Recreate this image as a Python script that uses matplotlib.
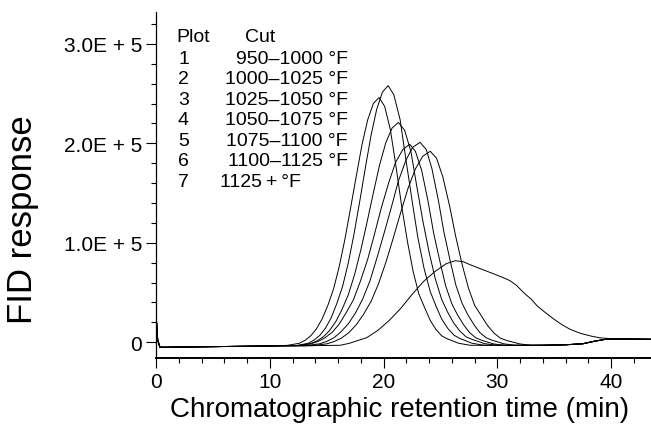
import matplotlib
matplotlib.use("Agg")
import matplotlib.pyplot as plt
import numpy as np
from matplotlib.ticker import MultipleLocator, FixedLocator

plt.rcParams['font.family'] = ['Liberation Sans', 'DejaVu Sans']

# shared baseline before the peaks and after them (min, response in 1e5)
head_t = [0.0, 0.05, 0.15, 0.35, 1.0, 4.0, 8.0, 11.0]
head_v = [0.0, 0.2, 0.02, -0.05, -0.05, -0.045, -0.04, -0.035]
tail_t = [34.0, 36.0, 37.5, 38.5, 39.5, 41.0, 43.5]
tail_v = [-0.03, -0.025, -0.015, 0.01, 0.03, 0.032, 0.03]

# plot 1: 950-1000 F
c1_t = [11.6, 12.6, 13.1, 13.6, 14.1, 14.6, 15.1, 15.6, 16.1, 16.6, 17.1, 17.6, 18.1, 18.6, 19.1, 19.6,
        20.1, 20.6, 21.1, 21.6, 22.1, 22.6, 23.1, 23.6, 24.1, 24.6, 25.1, 25.6, 26.6, 27.6]
c1_v = [-0.03, -0.01, 0.02, 0.065, 0.135, 0.235, 0.37, 0.535, 0.76, 1.035, 1.35, 1.67, 1.985, 2.235, 2.40, 2.46,
        2.37, 2.135, 1.76, 1.36, 1.01, 0.71, 0.485, 0.35, 0.22, 0.13, 0.065, 0.035, -0.01, -0.03]
# plot 2: 1000-1025 F
c2_t = [12.4, 13.4, 13.9, 14.4, 14.9, 15.4, 15.9, 16.4, 16.9, 17.4, 17.9, 18.4, 18.9, 19.4, 19.9, 20.4,
        20.9, 21.45, 21.95, 22.5, 23.0, 23.55, 24.1, 24.6, 25.1, 25.65, 26.2, 26.7, 27.75, 28.8]
c2_v = [-0.032, -0.009, 0.023, 0.07, 0.143, 0.248, 0.392, 0.563, 0.798, 1.087, 1.414, 1.755, 2.082, 2.344, 2.515, 2.58,
        2.488, 2.239, 1.846, 1.427, 1.06, 0.746, 0.51, 0.366, 0.235, 0.138, 0.07, 0.039, -0.009, -0.03]
# plot 3: 1025-1050 F
c3_t = [12.5, 13.6, 14.15, 14.7, 15.25, 15.8, 16.35, 16.9, 17.45, 18.0, 18.55, 19.1, 19.65, 20.2, 20.75, 21.3,
        21.85, 22.4, 22.9, 23.45, 24.0, 24.55, 25.1, 25.6, 26.15, 26.7, 27.25, 27.8, 28.85, 29.95]
c3_v = [-0.033, -0.013, 0.014, 0.055, 0.118, 0.208, 0.331, 0.478, 0.68, 0.928, 1.209, 1.501, 1.783, 2.008, 2.154, 2.21,
        2.131, 1.918, 1.58, 1.22, 0.905, 0.635, 0.433, 0.309, 0.196, 0.113, 0.055, 0.028, -0.013, -0.031]
# plot 4: 1050-1075 F
c4_t = [12.4, 13.6, 14.25, 14.85, 15.5, 16.1, 16.7, 17.35, 17.95, 18.6, 19.2, 19.8, 20.45, 21.05, 21.7, 22.3,
        22.8, 23.35, 23.9, 24.4, 24.95, 25.45, 26.0, 26.5, 27.05, 27.55, 28.1, 28.6, 29.65, 30.7]
c4_v = [-0.034, -0.016, 0.009, 0.045, 0.102, 0.183, 0.295, 0.427, 0.61, 0.833, 1.087, 1.351, 1.604, 1.807, 1.939, 1.99,
        1.919, 1.726, 1.422, 1.097, 0.813, 0.569, 0.386, 0.275, 0.173, 0.098, 0.045, 0.021, -0.016, -0.032]
# plot 5: 1075-1100 F
c5_t = [13.1, 14.4, 15.0, 15.65, 16.25, 16.9, 17.55, 18.15, 18.8, 19.4, 20.05, 20.7, 21.3, 21.95, 22.55, 23.2,
        23.75, 24.25, 24.8, 25.3, 25.85, 26.35, 26.9, 27.4, 27.95, 28.45, 29.0, 29.5, 30.55, 31.6]
c5_v = [-0.034, -0.015, 0.009, 0.046, 0.104, 0.186, 0.298, 0.432, 0.616, 0.842, 1.098, 1.364, 1.621, 1.826, 1.959, 2.01,
        1.938, 1.744, 1.436, 1.108, 0.821, 0.575, 0.391, 0.278, 0.175, 0.099, 0.046, 0.022, -0.015, -0.032]
# plot 6: 1100-1125 F
c6_t = [13.7, 15.0, 15.65, 16.3, 16.95, 17.6, 18.25, 18.9, 19.55, 20.2, 20.85, 21.5, 22.15, 22.8, 23.45, 24.1,
        24.65, 25.2, 25.8, 26.35, 26.9, 27.45, 28.0, 28.6, 29.15, 29.7, 30.25, 30.8, 31.95, 33.05]
c6_v = [-0.034, -0.016, 0.007, 0.042, 0.097, 0.176, 0.283, 0.411, 0.587, 0.803, 1.048, 1.303, 1.548, 1.744, 1.871, 1.92,
        1.851, 1.665, 1.371, 1.058, 0.783, 0.548, 0.372, 0.264, 0.166, 0.093, 0.042, 0.019, -0.016, -0.032]
# plot 7: 1125+ F (runs to the end on its own)
c7_t = [13.0, 16.2, 17.0, 17.8, 18.5, 19.5, 20.5, 21.5, 22.5, 23.5, 24.5, 25.5, 26.3, 27.0, 27.6, 28.5, 29.4,
        30.3, 31.1, 31.7, 32.3, 33.0, 33.5, 34.2, 35.0, 35.7, 36.4, 37.3, 38.2, 39.0, 39.9, 41.5, 43.5]
c7_v = [-0.035, -0.03, -0.01, 0.02, 0.045, 0.12, 0.22, 0.34, 0.48, 0.61, 0.71, 0.79, 0.82, 0.81, 0.78, 0.74, 0.70,
        0.66, 0.62, 0.57, 0.50, 0.43, 0.365, 0.30, 0.23, 0.175, 0.13, 0.09, 0.063, 0.045, 0.037, 0.035, 0.03]

plot_ids = ['1', '2', '3', '4', '5', '6', '7']
cuts = ['950\u20131000 \u00b0F', '1000\u20131025 \u00b0F', '1025\u20131050 \u00b0F', '1050\u20131075 \u00b0F',
        '1075\u20131100 \u00b0F', '1100\u20131125 \u00b0F', '1125\u2009+\u2009\u00b0F']

fig = plt.figure(figsize=(6.51, 4.27), dpi=100)
W, H = 651, 427
ax = fig.add_axes([156 / W, 1 - 359 / H, (W - 156) / W, (359 - 13) / H])

peaks = [(c1_t, c1_v), (c2_t, c2_v), (c3_t, c3_v), (c4_t, c4_v), (c5_t, c5_v), (c6_t, c6_v)]
for t, v in peaks:
    tt = np.array(head_t + t + tail_t)
    vv = np.array(head_v + v + tail_v) * 1e5
    ax.plot(tt, vv, color='black', lw=0.7)
ax.plot(np.array(head_t + c7_t), np.array(head_v + c7_v) * 1e5, color='black', lw=0.7)

ax.set_xlim(0, 43.5)
ax.set_ylim(-0.158e5, 3.32e5)
for s in ['top', 'right']:
    ax.spines[s].set_visible(False)
ax.spines['left'].set_linewidth(0.9)
ax.spines['bottom'].set_linewidth(1.4)

ax.xaxis.set_major_locator(MultipleLocator(10))
ax.xaxis.set_minor_locator(MultipleLocator(2))
ax.yaxis.set_major_locator(FixedLocator([0, 1e5, 2e5, 3e5]))
ax.yaxis.set_minor_locator(MultipleLocator(0.2e5))
ax.set_yticklabels(['0', '1.0E + 5', '2.0E + 5', '3.0E + 5'])
ax.tick_params(which='major', direction='out', length=7, width=0.8, labelsize=15, pad=3)
ax.tick_params(which='minor', direction='out', length=3.5, width=0.8)

ax.set_xlabel('Chromatographic retention time (min)', fontsize=20)
ax.xaxis.set_label_coords(0.493, -0.147)
ax.xaxis.label.set_va('center')
ax.set_ylabel('FID response', fontsize=25)
ax.yaxis.set_label_coords(-0.269, 0.402)
ax.yaxis.label.set_va('center')

# legend-like table in the upper left
fs = 14
fig.text(176 / W, 1 - 37 / H, 'Plot', fontsize=fs, va='center', ha='left')
fig.text(245 / W, 1 - 37 / H, 'Cut', fontsize=fs, va='center', ha='left')
rows_y = [59.3, 79.8, 100.3, 120.8, 141.3, 161.8, 182.3]
for i in range(7):
    y = 1 - rows_y[i] / H
    fig.text(178 / W, y, plot_ids[i], fontsize=fs, va='center', ha='left')
    if i < 6:
        fig.text(348 / W, y, cuts[i], fontsize=fs, va='center', ha='right')
    else:
        fig.text(220 / W, y, cuts[i], fontsize=fs, va='center', ha='left')

fig.savefig('out.png', dpi=100)
